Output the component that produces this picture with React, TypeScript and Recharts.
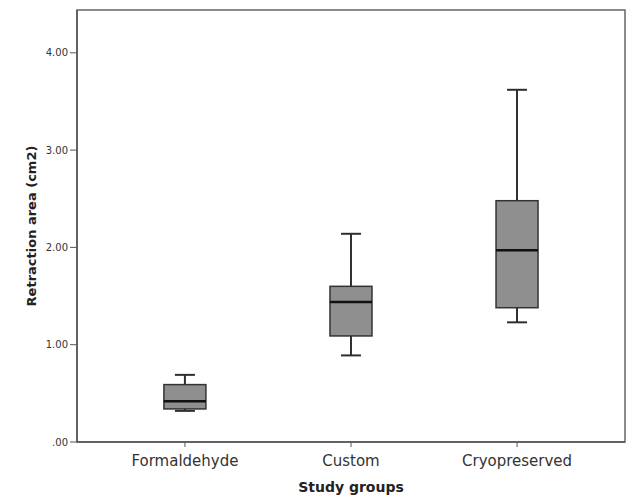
import React from 'react';
import { ComposedChart, Bar, XAxis, YAxis, ReferenceArea } from 'recharts';

const groups = ['Formaldehyde', 'Custom', 'Cryopreserved'];
const minVals = [0.32, 0.89, 1.23];
const q1Vals = [0.34, 1.09, 1.38];
const medianVals = [0.42, 1.44, 1.97];
const q3Vals = [0.59, 1.6, 2.48];
const maxVals = [0.69, 2.14, 3.62];
const yTicks = [0, 1, 2, 3, 4];
const xTicks = [1, 2, 3];

const data = groups.map((name, i) => ({
  name,
  pos: i + 1,
  range: [minVals[i], maxVals[i]],
  q1: q1Vals[i],
  median: medianVals[i],
  q3: q3Vals[i],
  min: minVals[i],
  max: maxVals[i],
}));

const BoxShape = (props: any) => {
  const { x, y, width, height, payload } = props;
  if (!payload || height <= 0) return null;
  // map values through the bar's own pixel span (min..max)
  const k = height / (payload.max - payload.min);
  const py = (v: number) => y + (payload.max - v) * k;
  const cx = x + width / 2;
  const capW = 20;
  const top = py(payload.q3);
  const bottom = py(payload.q1);
  return (
    <g>
      <line x1={cx} x2={cx} y1={py(payload.max)} y2={top} stroke="#2e2e2e" strokeWidth={2} />
      <line x1={cx} x2={cx} y1={bottom} y2={py(payload.min)} stroke="#2e2e2e" strokeWidth={2} />
      <line x1={cx - capW / 2} x2={cx + capW / 2} y1={py(payload.max)} y2={py(payload.max)} stroke="#2e2e2e" strokeWidth={2} />
      <line x1={cx - capW / 2} x2={cx + capW / 2} y1={py(payload.min)} y2={py(payload.min)} stroke="#2e2e2e" strokeWidth={2} />
      <rect x={x} y={top} width={width} height={bottom - top} fill="#8f8f8f" stroke="#333" strokeWidth={1.5} />
      <line x1={x} x2={x + width} y1={py(payload.median)} y2={py(payload.median)} stroke="#111" strokeWidth={2.5} />
    </g>
  );
};

const fmtY = (v: number) => (v === 0 ? '.00' : v.toFixed(2));
const fmtX = (v: number) => groups[v - 1] ?? '';

export default function App() {
  return (
    <div style={{ position: 'absolute', left: 0, top: 0, width: 629, height: 504, background: '#fff', fontFamily: 'DejaVu Sans' }}>
      <ComposedChart width={629} height={504} data={data} margin={{ top: 10, right: 4, bottom: 0, left: 17 }}>
        <ReferenceArea y1={0} y2={4.44} fill="none" stroke="#666" strokeWidth={1.5} ifOverflow="visible" />
        <XAxis
          dataKey="pos"
          type="number"
          domain={[0.35, 3.65]}
          ticks={xTicks}
          tickFormatter={fmtX}
          height={62}
          tickLine={{ stroke: '#555' }}
          tickSize={5}
          tickMargin={8}
          axisLine={{ stroke: '#555', strokeWidth: 1.5 }}
          tick={{ fontSize: 15, fill: '#333' }}
          label={{ value: 'Study groups', position: 'insideBottom', offset: 12, style: { fontSize: 14, fontWeight: 'bold', fill: '#222' } }}
        />
        <YAxis
          domain={[0, 4.44]}
          ticks={yTicks}
          allowDataOverflow
          width={60}
          tickFormatter={fmtY}
          tickSize={7}
          tickLine={{ stroke: '#555' }}
          axisLine={{ stroke: '#555', strokeWidth: 1.5 }}
          tick={{ fontSize: 10, fill: '#333' }}
          label={{ value: 'Retraction area (cm2)', angle: -90, position: 'insideLeft', offset: 14, style: { fontSize: 13, fontWeight: 'bold', fill: '#222', textAnchor: 'middle' } }}
        />
        <Bar dataKey="range" barSize={42} shape={BoxShape} isAnimationActive={false} />
      </ComposedChart>
    </div>
  );
}
